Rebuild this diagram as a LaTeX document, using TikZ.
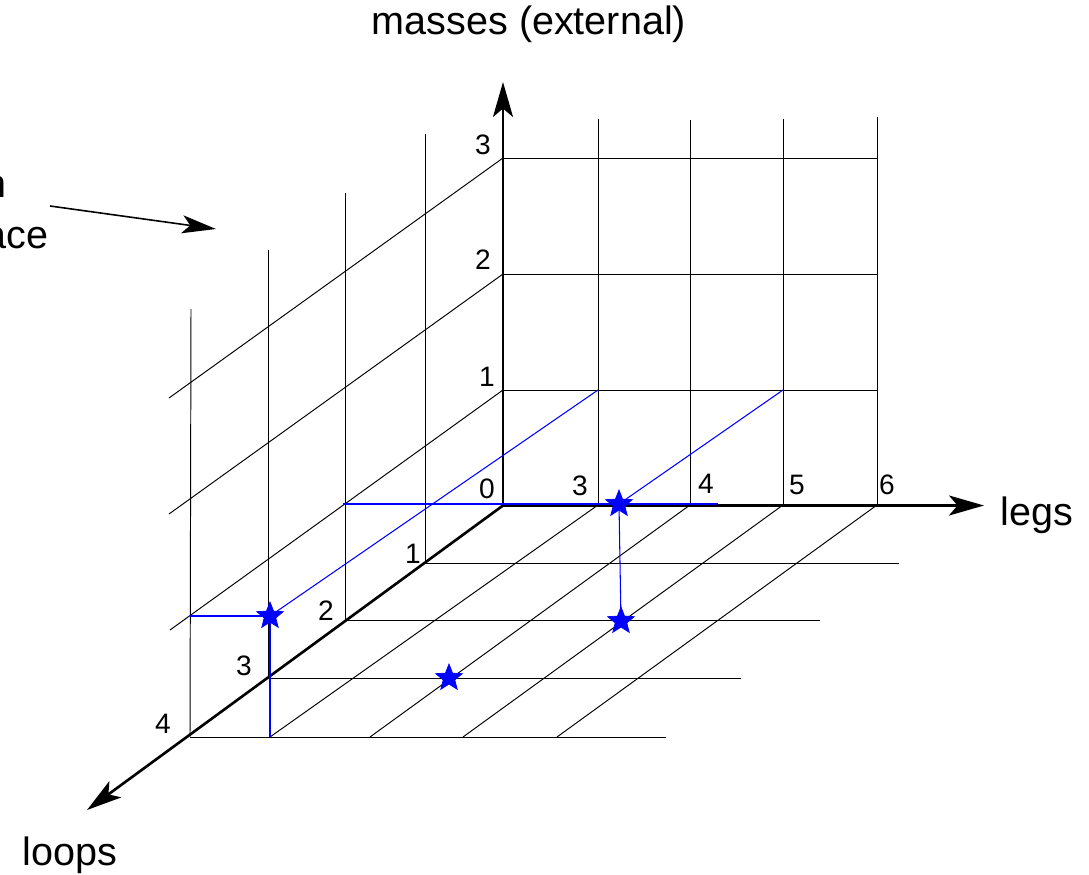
\documentclass[tikz,border=0pt]{standalone}
\usepackage{fontspec}
\setmainfont{Liberation Sans}
\usetikzlibrary{arrows.meta,shapes.geometric}
\begin{document}
\begin{tikzpicture}[x=0.02cm,y=-0.02cm,
  gridline/.style={black, line width=0.55pt},
  axisarrow/.style={black, line width=1.5pt, -{Stealth[length=0.7cm,width=0.4cm,inset=0.17cm]}},
  thinarrow/.style={black, line width=0.9pt, -{Stealth[length=0.68cm,width=0.36cm,inset=0.16cm]}},
  bluepath/.style={blue, line width=0.6pt},
  bstar/.style={star, star points=5, star point ratio=2.3, fill=blue, draw=blue, inner sep=0pt, minimum size=0.56cm},
  lab/.style={font=\fontsize{22.5}{27}\selectfont, inner sep=0pt},
  num/.style={font=\fontsize{16}{19}\selectfont, inner sep=0pt}
]
\useasboundingbox (0,0) rectangle (1089,875);
\clip (0,0) rectangle (1089,875);

% key coordinates
\coordinate (O) at (503,505.5);
\coordinate (Mtip) at (503,82);
\coordinate (Ltip) at (984,505.5);
\coordinate (Ptip) at (87,810);
\coordinate (M1) at (503,390);
\coordinate (M2) at (503,274);
\coordinate (M3) at (503,158);
\coordinate (L3) at (598,505);
\coordinate (L4) at (690,505);
\coordinate (L5) at (783,505);
\coordinate (L6) at (877,505);
\coordinate (P1) at (425,563);
\coordinate (P2) at (345,620);
\coordinate (P3) at (268,678);
\coordinate (P4) at (190,737);

% back wall
\draw[gridline] (L3) -- (598,119);
\draw[gridline] (L4) -- (690,120);
\draw[gridline] (L5) -- (783,119);
\draw[gridline] (L6) -- (877,117);
\draw[gridline] (M1) -- (877,390);
\draw[gridline] (M2) -- (877,274);
\draw[gridline] (M3) -- (877,158);

% left wall
\draw[gridline] (P1) -- (425,134);
\draw[gridline] (P2) -- (345,193);
\draw[gridline] (P3) -- (268,250);
\draw[gridline] (P4) -- (191,309);
\draw[gridline] (M1) -- (170,630);
\draw[gridline] (M2) -- (169,514);
\draw[gridline] (M3) -- (169,398);

% floor
\draw[gridline] (P1) -- (899,563);
\draw[gridline] (P2) -- (820,620);
\draw[gridline] (P3) -- (741,678);
\draw[gridline] (P4) -- (666,737);
\draw[gridline] (L3) -- (270,737);
\draw[gridline] (L4) -- (370,737);
\draw[gridline] (L5) -- (463,737);
\draw[gridline] (L6) -- (557,737);

% axes
\draw[axisarrow] (O) -- (Mtip);
\draw[axisarrow] (O) -- (Ltip);
\draw[axisarrow] (O) -- (Ptip);

% star positions
\coordinate (S1) at (270,616);
\coordinate (S2) at (619,504);
\coordinate (S3) at (621,621);
\coordinate (S4) at (449,678);

% blue paths
\coordinate (B1) at (343,504);
\coordinate (B2) at (718,504);
\coordinate (B3) at (190,616);
\coordinate (B4) at (270,737);
\coordinate (B5) at (598,390);
\coordinate (B6) at (783,390);
\draw[bluepath] (B1) -- (B2);
\draw[bluepath] (B3) -- (S1);
\draw[bluepath] (S1) -- (B4);
\draw[bluepath] (S1) -- (B5);
\draw[bluepath] (S2) -- (B6);
\draw[bluepath] (S2) -- (S3);

% stars
\node[bstar] (st1) at (S1) {};
\node[bstar] (st2) at (S2) {};
\node[bstar] (st3) at (S3) {};
\node[bstar] (st4) at (S4) {};

% top-left arrow
\coordinate (A1) at (50,206);
\coordinate (A2) at (216,229);
\draw[thinarrow] (A1) -- (A2);

% labels
\node[lab, anchor=base] (tmasses) at (529,35) {masses (external)};
\node[lab, anchor=base] (tlegs) at (1037,525) {legs};
\node[lab, anchor=base] (tloops) at (70,865) {loops};
\node[lab, anchor=base east] (tn) at (7,197) {n};
\node[lab, anchor=base east] (tace) at (49,248) {ace};

% numbers
\node[num] (n0) at (487,489) {0};
\node[num] (n3) at (580,486) {3};
\node[num] (n4) at (706,484) {4};
\node[num] (n5) at (797,485) {5};
\node[num] (n6) at (887,485) {6};
\node[num] (m1) at (487,377) {1};
\node[num] (m2) at (483,260) {2};
\node[num] (m3) at (483,145) {3};
\node[num] (p1) at (413,554) {1};
\node[num] (p2) at (326,611) {2};
\node[num] (p3) at (244,666) {3};
\node[num] (p4) at (163,724) {4};
\end{tikzpicture}
\end{document}
